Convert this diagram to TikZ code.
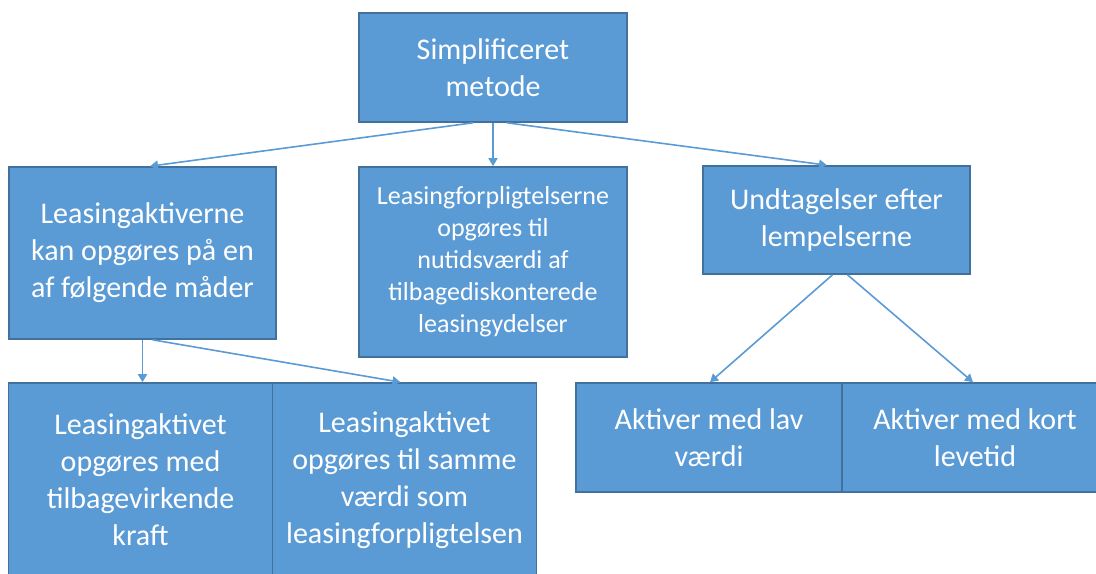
\documentclass[tikz,border=0pt]{standalone}
\usepackage{fontspec}
\setmainfont{Carlito}
\usetikzlibrary{arrows.meta,positioning}
\definecolor{boksblaa}{HTML}{5B9BD5}
\definecolor{kantblaa}{HTML}{41719C}
\begin{document}
\begin{tikzpicture}[x=0.5pt, y=-0.5pt, node distance=132pt,
	boks/.style = {draw=kantblaa, fill=boksblaa, line width=0.8pt, text=white, align=center, inner sep=0pt, font=\fontsize{15}{18.5}\selectfont},
	pil/.style = {draw=boksblaa, line width=0.8pt, -{Triangle[width=4.5pt,length=4pt]}}]
	\path[use as bounding box, clip] (0,0) rectangle (1096,573);
	%Top node
	\node[boks, minimum width=134pt, minimum height=54.5pt] (1) at (493,67.5) {Simplificeret\\metode};
	%Middle row
	\node[boks, minimum width=133.5pt, minimum height=86pt] (2) at (142.5,253) {Leasingaktiverne\\kan opgøres på en\\af følgende måder};
	\node[boks, minimum width=134pt, minimum height=95pt, font=\fontsize{13}{16}\selectfont] (3) at (493,262) {Leasingforpligtelserne\\opgøres til\\nutidsværdi af\\tilbagediskonterede\\leasingydelser};
	\node[boks, minimum width=133.5pt, minimum height=54pt] (4) at (836.5,220) {Undtagelser efter\\lempelserne};
	%Bottom row, left pair
	\node[boks, minimum width=132pt, minimum height=97pt] (5) at (140.5,480) {Leasingaktivet\\opgøres med\\tilbagevirkende\\kraft};
	\node[boks, minimum width=132pt, minimum height=97pt] (6) [right of=5] {Leasingaktivet\\opgøres til samme\\værdi som\\leasingforpligtelsen};
	%Bottom row, right pair
	\node[boks, minimum width=133pt, minimum height=54.5pt] (7) at (709,437.5) {Aktiver med lav\\værdi};
	\node[boks, minimum width=133pt, minimum height=54.5pt] (8) [node distance=133pt, right of=7] {Aktiver med kort\\levetid};

	%Arrows
	\draw[pil] ([xshift=-10pt]1.south) -- ([xshift=3.75pt]2.north); %Edge 1 -> 2
	\draw[pil] (1.south) -- (3.north); %Edge 1 -> 3
	\draw[pil] ([xshift=7pt]1.south) -- ([xshift=-4.75pt]4.north); %Edge 1 -> 4
	\draw[pil] (2.south) -- (2.south |- 5.north); %Edge 2 -> 5
	\draw[pil] ([xshift=5pt]2.south) -- ([xshift=-2pt]6.north); %Edge 2 -> 6
	\draw[pil] ([xshift=-2pt]4.south) -- ([xshift=0.5pt]7.north); %Edge 4 -> 7
	\draw[pil] ([xshift=5.5pt]4.south) -- ([xshift=-1pt]8.north); %Edge 4 -> 8
\end{tikzpicture}
\end{document}
